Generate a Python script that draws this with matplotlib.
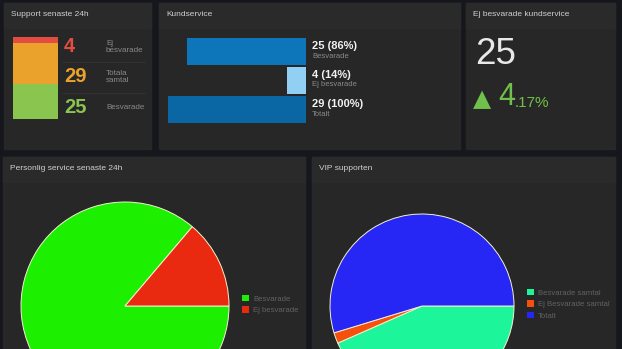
import matplotlib
matplotlib.use("Agg")
from matplotlib import pyplot as plt
from matplotlib.patches import Rectangle

plt.rcParams['font.family'] = ['Liberation Sans', 'DejaVu Sans']

W, H = 622, 349

# data
support_labels = ["Ej\nbesvarade", "Totala\nsamtal", "Besvarade"]
support_values = [4, 29, 25]
support_colors = ['#e24d42', '#eba22c', '#8ac54f']

kund_labels = ["Besvarade", "Ej besvarade", "Totalt"]
kund_values = [25, 4, 29]
kund_pct = [86, 14, 100]
kund_colors = ['#0d76bb', '#92d0f3', '#0a67a3']

ej_value = 25
ej_change = "4"
ej_change_dec = ".17%"

personlig_labels = ["Besvarade", "Ej besvarade"]
personlig_values = [25, 4]
personlig_colors = ['#1cf000', '#ea2a10']

vip_labels = ["Besvarade samtal", "Ej Besvarade samtal", "Totalt"]
vip_values = [23, 1, 29]
vip_colors = ['#1df59b', '#f5500c', '#2626f5']

BG = '#15171c'
PANEL = '#272727'
HEADER = '#2a2a2a'
TITLE_C = '#d0d0d0'
GREY = '#8a8a8a'


def fx(x):
    return x / W


def fy(y):
    return 1 - y / H


def add_axes_px(fig, x0, y0, x1, y1):
    return fig.add_axes([fx(x0), fy(y1), (x1 - x0) / W, (y1 - y0) / H])


def panel(fig, x0, y0, x1, y1, title, head=25):
    fig.patches.append(Rectangle((fx(x0), fy(y1)), (x1 - x0) / W, (y1 - y0) / H,
                                 transform=fig.transFigure, color=PANEL, zorder=-2))
    fig.patches.append(Rectangle((fx(x0), fy(y0 + head)), (x1 - x0) / W, head / H,
                                 transform=fig.transFigure, color=HEADER, zorder=-1))
    fig.text(fx(x0 + 7), fy(y0 + 12), title, color=TITLE_C, fontsize=6,
             va='center', ha='left')


fig = plt.figure(figsize=(W / 100, H / 100), dpi=100, facecolor=BG)

panel(fig, 4, 3, 151, 149, "Support senaste 24h")
panel(fig, 159, 3, 460, 149, "Kundservice")
panel(fig, 466, 3, 615, 149, "Ej besvarade kundservice")
panel(fig, 3, 157, 305, 360, "Personlig service senaste 24h")
panel(fig, 312, 157, 615, 360, "VIP supporten")

# support stacked bar (bottom -> top: besvarade, totala, ej)
ax = add_axes_px(fig, 13, 37, 58, 119)
bottom = 0
for v, c in zip(support_values[::-1], support_colors[::-1]):
    ax.bar(0, v, bottom=bottom, width=1, color=c, linewidth=0)
    bottom += v
ax.set_xlim(-0.5, 0.5)
ax.set_ylim(0, sum(support_values))
ax.axis('off')

rows_y = [47, 77, 107]
for yy, v, lab, c in zip(rows_y, support_values, support_labels, support_colors):
    fig.text(fx(64), fy(yy), str(v), color=c, fontsize=14.5, fontweight='bold',
             va='center', ha='left')
    fig.text(fx(106), fy(yy), lab, color=GREY, fontsize=5.8, va='center',
             ha='left', linespacing=1.0)
for yy in [62, 93]:
    fig.add_artist(plt.Line2D([fx(62), fx(145)], [fy(yy), fy(yy)],
                              color='#333333', lw=0.6))

# kundservice horizontal bars, right aligned
ax = add_axes_px(fig, 168, 37, 306, 124)
pos = list(range(len(kund_values)))
ax.barh(pos, kund_values, height=0.93, color=kund_colors, linewidth=0)
ax.set_xlim(max(kund_values), 0)
ax.set_ylim(len(kund_values) - 0.5, -0.5)
ax.axis('off')
for i, (v, p, lab) in enumerate(zip(kund_values, kund_pct, kund_labels)):
    yy = 46 + 29 * i
    fig.text(fx(312), fy(yy), f"{v} ({p}%)", color='#f2f2f2', fontsize=8,
             fontweight='bold', va='center', ha='left')
    fig.text(fx(312), fy(yy + 10), lab, color=GREY, fontsize=5.5,
             va='center', ha='left')

# ej besvarade stat
fig.text(fx(475), fy(55), str(ej_value), color='#e8e8e8', fontsize=26.5,
         va='center', ha='left')
fig.text(fx(473), fy(99), "\u25B2", color='#70c04b', fontsize=17,
         va='center', ha='left', family='DejaVu Sans')
fig.text(fx(498), fy(97), ej_change, color='#70c04b', fontsize=22,
         va='center', ha='left')
fig.text(fx(515), fy(103), ej_change_dec, color='#70c04b', fontsize=11,
         va='center', ha='left')


def pie_panel(cx, cy, r, values, colors, labels, leg_x, leg_y):
    a = add_axes_px(fig, cx - r, cy - r, cx + r, cy + r)
    wedges, _ = a.pie(values, colors=colors, startangle=0, counterclock=False,
                      wedgeprops=dict(edgecolor='#f4f1cf', linewidth=0.7))
    a.set_xlim(-1, 1)
    a.set_ylim(-1, 1)
    a.set_aspect('equal')
    a.axis('off')
    leg = a.legend(wedges, labels, loc='upper left',
                   bbox_to_anchor=(fx(leg_x), fy(leg_y)),
                   bbox_transform=fig.transFigure, frameon=False,
                   fontsize=5.6, labelcolor='#626262', handlelength=0.9,
                   handleheight=0.9, handletextpad=0.5, labelspacing=0.45,
                   borderpad=0, borderaxespad=0)
    for h in leg.legend_handles:
        h.set_edgecolor('none')


pie_panel(125, 306, 104, personlig_values, personlig_colors,
          personlig_labels, 242, 295)
pie_panel(422, 306, 92, vip_values, vip_colors, vip_labels, 527, 289)

fig.savefig("out.png", dpi=100, facecolor=BG)
